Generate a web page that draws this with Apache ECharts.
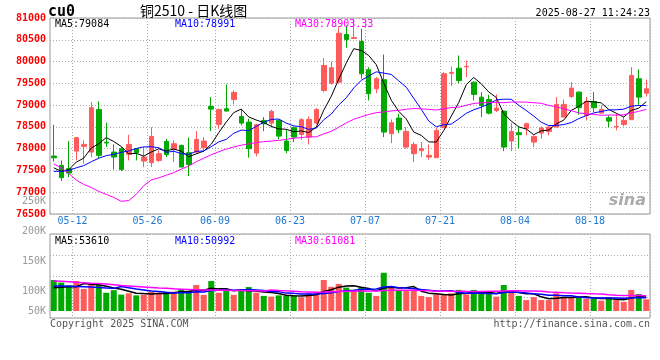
<!DOCTYPE html>
<html><head><meta charset="utf-8">
<script src="https://cdn.jsdelivr.net/npm/echarts@6/dist/echarts.min.js"></script>
<style>html,body{margin:0;padding:0;background:#fff}#c{width:660px;height:360px}</style>
</head><body><div id="c"></div><script>
const dates = ['05-07','05-08','05-09','05-12','05-13','05-14','05-15','05-16','05-19','05-20','05-21','05-22','05-23','05-26','05-27','05-28','05-29','05-30','06-03','06-04','06-05','06-06','06-09','06-10','06-11','06-12','06-13','06-16','06-17','06-18','06-19','06-20','06-23','06-24','06-25','06-26','06-27','06-30','07-01','07-02','07-03','07-04','07-07','07-08','07-09','07-10','07-11','07-14','07-15','07-16','07-17','07-18','07-21','07-22','07-23','07-24','07-25','07-28','07-29','07-30','07-31','08-01','08-04','08-05','08-06','08-07','08-08','08-11','08-12','08-13','08-14','08-15','08-18','08-19','08-20','08-21','08-22','08-25','08-26','08-27'];
const tickDates = ['05-12','05-26','06-09','06-23','07-07','07-21','08-04','08-18'];

const opens  = [77830,77616,77541,77944,78052,77921,78901,78150,77921,77998,77869,77998,77715,77678,77731,78167,77984,78075,77907,77921,78022,78970,78557,78917,79130,78740,78610,77898,78649,78587,78649,78174,78481,78327,78266,78587,79337,79504,79527,80621,80530,80461,79812,79376,79582,78344,78702,78036,77884,77953,77807,77793,78481,79730,79848,79880,79527,79183,79130,78878,78862,78174,78367,78458,78151,78357,78396,78495,78725,79199,79298,78763,79085,78816,78710,78500,78557,78665,79605,79275];
const closes = [77790,77334,77440,78252,78098,78940,77846,78130,77807,77524,78098,77907,77807,78282,77884,77862,78114,77577,77639,78213,78174,78908,78901,78862,79291,78587,77999,78550,78573,78855,78289,77960,78266,78665,78672,78901,79910,79857,80651,80507,80550,79720,79261,79605,78380,78596,78435,78396,78098,78000,77846,78419,79720,79750,79566,79890,79245,78993,78816,78931,78036,78396,78320,78573,78282,78472,78495,79016,79016,79390,78940,79085,78940,78901,78633,78511,78649,79681,79183,79376];
const lows   = [77700,77256,77348,77731,77655,77807,77776,78036,77524,77486,77731,77731,77577,77577,77692,77807,77692,77577,77371,77884,77921,78403,78458,78862,79016,78534,77793,77823,78403,78481,78213,77898,78151,78206,78098,78557,79298,79468,79490,80316,80523,79605,79107,79275,78266,78128,78357,77999,77692,77807,77747,77793,78481,79436,79504,79642,79107,78724,78786,78839,77944,77944,78013,78304,78036,78229,78304,78495,78725,79160,78779,78649,78839,78802,78495,78419,78511,78665,79009,79199];
const highs  = [78550,77731,78174,78265,78190,79069,79085,78596,78098,78036,78320,78010,78036,78495,77960,78229,78190,78091,78252,78403,78265,79183,78917,79474,79337,78894,78688,78573,78725,78894,78672,78435,78511,78702,78740,78931,80078,80002,80789,80828,80980,80752,79871,79642,80163,78672,78802,78495,78151,78151,78098,78481,79757,79887,80140,80025,79543,79298,79238,79245,78870,78587,78511,78596,78304,78511,78518,79183,79130,79527,79314,79183,79298,78993,78763,78802,78725,79871,79819,79582];
const volumes = [119000,109000,99000,115000,85000,105000,100000,70000,80000,63000,68000,60000,63000,74000,70000,70000,74000,83000,78000,100000,62000,115000,70000,81000,62000,81000,92000,70000,58000,55000,60000,58000,60000,53000,68000,74000,119000,93000,104000,90000,77000,91000,70000,58000,147000,90000,77000,77000,78000,58000,53000,64000,64000,68000,81000,64000,81000,70000,65000,55000,100000,77000,58000,42000,53000,42000,42000,68000,53000,53000,53000,46000,46000,40000,53000,42000,35000,81000,65000,45000];

// moving-average values for the days whose window starts before the first candle
const ma5Head  = [77560,77480,77520,77690];
const ma10Head = [77480,77480,77500,77560,77610,77700,77780,77840,77870];
const ma30Head = [77650,77560,77430,77280,77180,77110,77020,76950,76880,76790,76810,76950,77150,77280,77330,77390,77450,77530,77600,77700,77780,77860,77930,77990,78040,78080,78110,78140,78160];
const volMa5Head  = [89000,91000,93000,93000];
const volMa10Head = [96000,96000,95000,94000,93000,92000,90000,88000,87000];
const volMa30Head = [115000,114000,112000,110000,109000,107000,106000,104000,101000,98000,96000,94000,92000,90000,88000,87000,85000,84000,83000,82000,81000,81000,80000,80000,79000,79000,78000,78000,77000];
const volLabelValues = [66667,100000,150000,200000,250000];

function movingAvg(vals, n, head) {
  return vals.map((v, i) => {
    if (i < head.length) return head[i];
    let s = 0; for (let k = i - n + 1; k <= i; k++) s += vals[k];
    return +(s / n).toFixed(2);
  });
}
const RED = '#ff5b5b', GREEN = '#00a800';
const kData = opens.map((o, i) => [o, closes[i], lows[i], highs[i]]);
const volData = volumes.map((v, i) => ({value: v, itemStyle: {color: closes[i] >= opens[i] ? RED : GREEN}}));
const isTick = (idx, val) => tickDates.indexOf(val) >= 0;
const MONO = 'DejaVu Sans Mono';
const dotted = {color: '#aaaaaa', width: 1, type: [1, 2]};

const chart = echarts.init(document.getElementById('c'), null, {renderer: 'canvas'});
function txt(x, y, text, fill, font, align, valign) {
  return {type: 'text', x: x, y: y, silent: true, z: 100,
    style: {text: text, fill: fill, font: font, textAlign: align || 'left', textVerticalAlign: valign || 'middle'}};
}
chart.setOption({
  animation: false,
  backgroundColor: '#fff',
  grid: [
    {left: 50, width: 600, top: 18, height: 196, show: true, borderColor: '#999', borderWidth: 1, backgroundColor: 'transparent'},
    {left: 50, width: 600, top: 234, height: 84, show: true, borderColor: '#999', borderWidth: 1, backgroundColor: 'transparent'},
    {left: 50, width: 600, top: 201, height: 120, show: false}
  ],
  xAxis: [
    {gridIndex: 0, type: 'category', data: dates, boundaryGap: true,
     axisLine: {show: false}, axisTick: {show: false},
     axisLabel: {interval: isTick, color: '#1f78d1', fontFamily: MONO, fontSize: 10, margin: 2, padding: [0, 7.5, 0, 0]},
     splitLine: {show: true, interval: isTick, lineStyle: dotted}},
    {gridIndex: 1, type: 'category', data: dates, boundaryGap: true,
     axisLine: {show: false}, axisTick: {show: false}, axisLabel: {show: false},
     splitLine: {show: true, interval: isTick, lineStyle: dotted}},
    {gridIndex: 2, type: 'category', data: dates, show: false}
  ],
  yAxis: [
    {gridIndex: 0, type: 'value', min: 76500, max: 81000, interval: 500,
     axisLine: {show: false}, axisTick: {show: false},
     axisLabel: {color: '#ff0000', fontFamily: MONO, fontSize: 10, fontWeight: 'bold', margin: 4, formatter: v => String(v)},
     splitLine: {show: true, lineStyle: dotted}},
    {gridIndex: 1, type: 'value', min: -27000, max: 296000,
     axisLine: {show: false}, axisTick: {show: false}, axisLabel: {show: false}, splitLine: {show: false}},
    {gridIndex: 1, type: 'value', min: 0, max: 4, interval: 1,
     axisLine: {show: false}, axisTick: {show: false}, axisLabel: {show: false},
     splitLine: {show: true, lineStyle: dotted}},
    {gridIndex: 2, type: 'value', min: 50000, max: 250000, interval: 50000,
     axisLine: {show: false}, axisTick: {show: false}, splitLine: {show: false},
     axisLabel: {customValues: volLabelValues, color: '#999', fontFamily: MONO, fontSize: 10, margin: 4,
       formatter: v => (Math.round(v / 50000) * 50) + 'K'}}
  ],
  series: [
    {type: 'candlestick', xAxisIndex: 0, yAxisIndex: 0, data: kData, barWidth: 5,
     itemStyle: {color: RED, color0: GREEN, borderColor: RED, borderColor0: GREEN, borderWidth: 1}},
    {type: 'line', name: 'MA5', xAxisIndex: 0, yAxisIndex: 0, data: movingAvg(closes, 5, ma5Head), showSymbol: false, symbol: 'none', lineStyle: {color: '#000', width: 1}, z: 3},
    {type: 'line', name: 'MA10', xAxisIndex: 0, yAxisIndex: 0, data: movingAvg(closes, 10, ma10Head), showSymbol: false, symbol: 'none', lineStyle: {color: '#0000ff', width: 1}, z: 3},
    {type: 'line', name: 'MA30', xAxisIndex: 0, yAxisIndex: 0, data: movingAvg(closes, 30, ma30Head), showSymbol: false, symbol: 'none', lineStyle: {color: '#ff00ff', width: 1}, z: 3},
    {type: 'bar', xAxisIndex: 1, yAxisIndex: 1, data: volData, barWidth: 6},
    {type: 'line', xAxisIndex: 1, yAxisIndex: 1, data: movingAvg(volumes, 5, volMa5Head), symbol: 'none', lineStyle: {color: '#000', width: 1.5}, z: 3},
    {type: 'line', xAxisIndex: 1, yAxisIndex: 1, data: movingAvg(volumes, 10, volMa10Head), symbol: 'none', lineStyle: {color: '#0000ff', width: 1.5}, z: 3},
    {type: 'line', xAxisIndex: 1, yAxisIndex: 1, data: movingAvg(volumes, 30, volMa30Head), symbol: 'none', lineStyle: {color: '#ff00ff', width: 1.5}, z: 3}
  ],
  graphic: [
    txt(48, 12, 'cu0', '#000', 'bold 15px "DejaVu Sans Mono"'),
    txt(140, 11, '铜2510 - 日K线图', '#000', '14px "Noto Sans CJK SC"'),
    txt(650, 13, '2025-08-27 11:24:23', '#000', '10px "DejaVu Sans Mono"', 'right'),
    txt(55, 24, 'MA5:79084', '#000', '10px "DejaVu Sans Mono"'),
    txt(175, 24, 'MA10:78991', '#0000ff', '10px "DejaVu Sans Mono"'),
    txt(295, 24, 'MA30:78903.33', '#ff00ff', '10px "DejaVu Sans Mono"'),
    txt(55, 241, 'MA5:53610', '#000', '10px "DejaVu Sans Mono"'),
    txt(175, 241, 'MA10:50992', '#0000ff', '10px "DejaVu Sans Mono"'),
    txt(295, 241, 'MA30:61081', '#ff00ff', '10px "DejaVu Sans Mono"'),
    txt(50, 324, 'Copyright 2025 SINA.COM', '#555', '10px "DejaVu Sans Mono"'),
    txt(650, 324, 'http://finance.sina.com.cn', '#555', '10px "DejaVu Sans Mono"', 'right'),
    txt(646, 201, 'sina', 'rgba(150,150,150,0.8)', 'italic bold 16px "DejaVu Sans"', 'right')
  ]
});
</script></body></html>
